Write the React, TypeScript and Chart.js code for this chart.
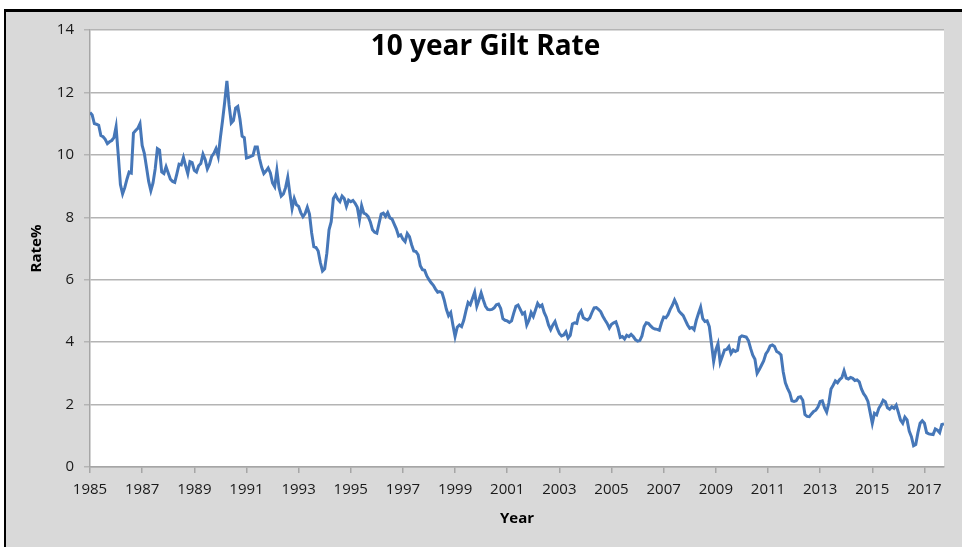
import React, { useEffect, useRef } from "react";
import { Chart, registerables } from "chart.js";

Chart.register(...registerables);

const TITLE = "10 year Gilt Rate";
const X_TITLE = "Year";
const Y_TITLE = "Rate%";
const START_YEAR = 1985;

const xTickYears = [
  1985, 1987, 1989, 1991, 1993, 1995, 1997, 1999, 2001, 2003, 2005, 2007, 2009,
  2011, 2013, 2015, 2017,
];
const yTickValues = [0, 2, 4, 6, 8, 10, 12, 14];

// Monthly 10 year gilt rate (%), Jan 1985 onwards
const rates1985to1989 = [
  11.36, 11.28, 11.0, 10.98, 10.95, 10.62, 10.58, 10.5, 10.36, 10.42, 10.46, 10.55,
  10.9, 10.0, 9.05, 8.75, 8.95, 9.22, 9.45, 9.42, 10.7, 10.78, 10.85, 11.0,
  10.3, 10.05, 9.6, 9.15, 8.85, 9.1, 9.55, 10.2, 10.15, 9.45, 9.4, 9.62,
  9.42, 9.22, 9.15, 9.12, 9.4, 9.7, 9.68, 9.92, 9.65, 9.4, 9.78, 9.75,
  9.5, 9.45, 9.65, 9.72, 10.02, 9.85, 9.55, 9.7, 9.95, 10.05, 10.2, 9.95,
];
const rates1990to1999 = [
  10.55, 11.1, 11.7, 12.37, 11.6, 11.02, 11.1, 11.5, 11.55, 11.15, 10.6, 10.55,
  9.9, 9.92, 9.95, 9.98, 10.25, 10.25, 9.88, 9.6, 9.4, 9.48, 9.58, 9.42,
  9.1, 8.98, 9.5, 8.95, 8.68, 8.75, 8.95, 9.28, 8.75, 8.28, 8.6, 8.4,
  8.35, 8.15, 8.02, 8.12, 8.32, 8.1, 7.5, 7.06, 7.03, 6.92, 6.55, 6.28,
  6.35, 6.85, 7.6, 7.86, 8.6, 8.72, 8.58, 8.5, 8.68, 8.6, 8.35, 8.55,
  8.5, 8.54, 8.45, 8.32, 7.92, 8.37, 8.13, 8.1, 8.02, 7.85, 7.6, 7.52,
  7.49, 7.8, 8.1, 8.13, 8.03, 8.15, 7.98, 7.94, 7.78, 7.62, 7.4, 7.44,
  7.3, 7.22, 7.48, 7.38, 7.12, 6.92, 6.9, 6.8, 6.45, 6.32, 6.3, 6.12,
  6.0, 5.9, 5.82, 5.7, 5.6, 5.62, 5.58, 5.35, 5.05, 4.85, 4.95, 4.55,
  4.18, 4.48, 4.55, 4.5, 4.7, 5.0, 5.27, 5.2, 5.4, 5.6, 5.15, 5.35,
];
const rates2000to2009 = [
  5.58, 5.35, 5.15, 5.05, 5.04, 5.05, 5.1, 5.2, 5.22, 5.08, 4.75, 4.7,
  4.68, 4.63, 4.68, 4.93, 5.15, 5.19, 5.05, 4.9, 4.95, 4.55, 4.7, 4.95,
  4.82, 5.03, 5.24, 5.14, 5.19, 4.95, 4.8, 4.55, 4.4, 4.55, 4.66, 4.44,
  4.28, 4.2, 4.23, 4.33, 4.13, 4.22, 4.58, 4.62, 4.6, 4.9, 5.0, 4.78,
  4.74, 4.71, 4.78, 4.95, 5.1, 5.11, 5.05, 4.98, 4.83, 4.71, 4.6, 4.45,
  4.57, 4.62, 4.65, 4.45, 4.15, 4.18, 4.1, 4.22, 4.18, 4.25, 4.18, 4.08,
  4.03, 4.05, 4.2, 4.5, 4.62, 4.6, 4.52, 4.45, 4.42, 4.41, 4.38, 4.62,
  4.8, 4.78, 4.88, 5.05, 5.18, 5.35, 5.2, 5.0, 4.92, 4.85, 4.7, 4.55,
  4.44, 4.47, 4.4, 4.7, 4.92, 5.12, 4.75, 4.66, 4.68, 4.5, 3.95, 3.38,
  3.75, 3.95, 3.35, 3.55, 3.75, 3.77, 3.86, 3.64, 3.75, 3.7, 3.74, 4.15,
];
const rates2010to2017 = [
  4.2, 4.18, 4.16, 4.05, 3.8, 3.58, 3.45, 3.0, 3.12, 3.26, 3.4, 3.62,
  3.72, 3.88, 3.91, 3.86, 3.7, 3.66, 3.59, 3.05, 2.7, 2.52, 2.38, 2.12,
  2.1, 2.12, 2.23, 2.25, 2.14, 1.68, 1.62, 1.61, 1.7, 1.78, 1.82, 1.92,
  2.1, 2.12, 1.9, 1.76, 2.05, 2.5, 2.62, 2.76, 2.7, 2.8, 2.86, 3.08,
  2.85, 2.82, 2.87, 2.84, 2.77, 2.79, 2.73, 2.5, 2.35, 2.25, 2.1, 1.75,
  1.4, 1.72, 1.67, 1.88, 1.99, 2.14, 2.09, 1.9, 1.85, 1.93, 1.88, 1.98,
  1.75, 1.5, 1.4, 1.6, 1.51, 1.15, 0.97, 0.68, 0.72, 1.1, 1.4, 1.48,
  1.4, 1.1, 1.06, 1.05, 1.04, 1.22, 1.18, 1.1, 1.36, 1.38,
];

const allRates = [
  ...rates1985to1989,
  ...rates1990to1999,
  ...rates2000to2009,
  ...rates2010to2017,
];

const FONT = '"Open Sans", "DejaVu Sans", sans-serif';

export default function App() {
  const ref = useRef<HTMLCanvasElement>(null);

  useEffect(() => {
    if (!ref.current) return;
    const points = allRates.map((v, i) => ({ x: START_YEAR + i / 12, y: v }));
    const lastX = START_YEAR + (allRates.length - 1) / 12;

    const bgPlugin = {
      id: "bgFrame",
      beforeDraw(chart: any) {
        const { ctx, width, height, chartArea: a } = chart;
        ctx.save();
        ctx.fillStyle = "#ffffff";
        ctx.fillRect(0, 0, width, height);
        ctx.fillStyle = "#d9d9d9";
        ctx.fillRect(6, 12, width - 6, height - 12);
        ctx.fillStyle = "#000000";
        ctx.fillRect(4, 9, width - 4, 3);
        ctx.fillRect(4, 9, 2, height - 9);
        ctx.fillStyle = "#ffffff";
        ctx.fillRect(a.left, a.top, a.right - a.left, a.bottom - a.top);
        ctx.restore();
      },
    };

    const titlePlugin = {
      id: "innerTitle",
      afterDraw(chart: any) {
        const { ctx } = chart;
        ctx.save();
        ctx.font = `bold 28px ${FONT}`;
        ctx.fillStyle = "#000000";
        ctx.textAlign = "center";
        ctx.textBaseline = "alphabetic";
        ctx.fillText(TITLE, 485.5, 55);
        ctx.restore();
      },
    };

    const chart = new Chart(ref.current, {
      type: "line",
      data: {
        datasets: [
          {
            data: points,
            borderColor: "#4677b8",
            borderWidth: 3,
            pointRadius: 0,
            tension: 0,
            fill: false,
          },
        ],
      },
      options: {
        animation: false,
        responsive: false,
        layout: { padding: { left: 0, top: 30, right: 18, bottom: 0 } },
        plugins: {
          legend: { display: false },
          tooltip: { enabled: false },
          title: { display: false },
        },
        scales: {
          x: {
            type: "linear",
            min: START_YEAR,
            max: lastX,
            afterBuildTicks: (s: any) => {
              s.ticks = xTickYears.map((v) => ({ value: v }));
            },
            afterFit: (s: any) => {
              s.height = 80;
            },
            ticks: {
              callback: (v: any) => String(v),
              font: { family: FONT, size: 15 },
              color: "#1a1a1a",
              padding: 8,
              maxRotation: 0,
              autoSkip: false,
            },
            grid: {
              drawOnChartArea: false,
              drawTicks: true,
              tickLength: 6,
              color: "#a6a6a6",
              lineWidth: 1.5,
            },
            border: { color: "#a6a6a6", width: 1.5 },
            title: {
              display: true,
              text: X_TITLE,
              font: { family: FONT, size: 15, weight: "bold" },
              color: "#000000",
              padding: { top: 0, bottom: 19 },
            },
          },
          y: {
            min: 0,
            max: 14,
            afterBuildTicks: (s: any) => {
              s.ticks = yTickValues.map((v) => ({ value: v }));
            },
            afterFit: (s: any) => {
              s.width = 90;
            },
            ticks: {
              callback: (v: any) => String(v),
              font: { family: FONT, size: 15 },
              color: "#1a1a1a",
              padding: 10,
            },
            grid: {
              color: "#b4b4b4",
              lineWidth: 1.5,
              tickLength: 6,
            },
            border: { color: "#a6a6a6", width: 1.5 },
            title: {
              display: true,
              text: Y_TITLE,
              font: { family: FONT, size: 15, weight: "bold" },
              color: "#000000",
              padding: { top: 28, bottom: 0 },
            },
          },
        },
      },
      plugins: [bgPlugin, titlePlugin],
    } as any);

    return () => chart.destroy();
  }, []);

  return (
    <div style={{ position: "fixed", left: 0, top: 0, width: 962, height: 547 }}>
      <canvas ref={ref} width={962} height={547} style={{ display: "block" }} />
    </div>
  );
}
